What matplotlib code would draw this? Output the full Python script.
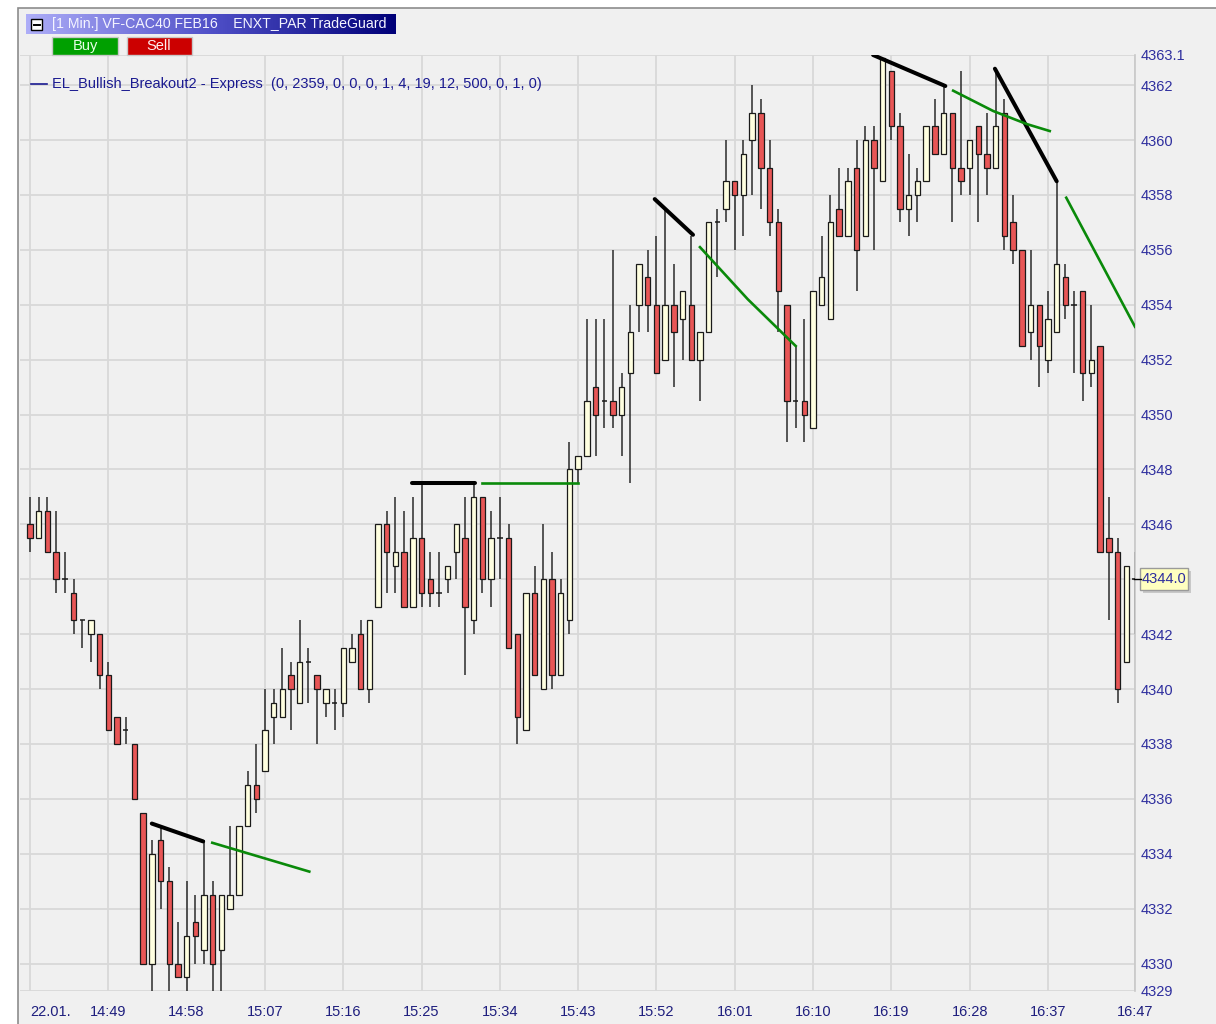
import matplotlib.pyplot as plt
import numpy as np
from matplotlib.patches import Rectangle
from matplotlib.lines import Line2D
from matplotlib.colors import LinearSegmentedColormap

plt.rcParams['font.family'] = ['Liberation Sans', 'DejaVu Sans']

# --- data: 1-minute OHLC, VF-CAC40 FEB16, 22.01. 14:40 - 16:47 ---
opens = [4346.0, 4345.5, 4346.5, 4345.0, 4344.0, 4343.5, 4342.5, 4342.0, 4342.0, 4340.5,
         4339.0, 4338.5, 4338.0, 4335.5, 4330.0, 4334.5, 4333.0, 4330.0, 4329.5, 4331.5,
         4330.5, 4332.5, 4330.5, 4332.0, 4332.5, 4335.0, 4336.5, 4337.0, 4339.0, 4339.0,
         4340.5, 4339.5, 4341.0, 4340.5, 4339.5, 4339.5, 4339.5, 4341.0, 4342.0, 4340.0,
         4343.0, 4346.0, 4344.5, 4345.0, 4343.0, 4345.5, 4344.0, 4343.5, 4344.0, 4345.0,
         4345.5, 4342.5, 4347.0, 4344.0, 4345.5, 4345.5, 4342.0, 4338.5, 4343.5, 4340.0,
         4344.0, 4340.5, 4342.5, 4348.0, 4348.5, 4351.0, 4350.5, 4350.5, 4350.0, 4351.5,
         4354.0, 4355.0, 4354.0, 4352.0, 4354.0, 4353.5, 4354.0, 4352.0, 4353.0, 4357.0,
         4357.5, 4358.5, 4358.0, 4360.0, 4361.0, 4359.0, 4357.0, 4354.0, 4350.5, 4350.5,
         4349.5, 4354.0, 4353.5, 4357.5, 4356.5, 4359.0, 4356.5, 4360.0, 4358.5, 4362.5,
         4360.5, 4357.5, 4358.0, 4358.5, 4360.5, 4359.5, 4361.0, 4359.0, 4359.0, 4360.5,
         4359.5, 4359.0, 4361.0, 4357.0, 4356.0, 4353.0, 4354.0, 4352.0, 4353.0, 4355.0,
         4354.0, 4354.5, 4351.5, 4352.5, 4345.5, 4345.0, 4341.0, 4344.0]
highs = [4347.0, 4347.0, 4347.0, 4346.5, 4345.0, 4344.0, 4342.5, 4342.5, 4342.0, 4341.0,
         4339.0, 4339.0, 4338.0, 4335.5, 4334.5, 4335.0, 4333.5, 4331.5, 4333.0, 4332.5,
         4334.5, 4333.0, 4332.5, 4335.0, 4335.0, 4337.0, 4338.0, 4340.0, 4340.0, 4341.5,
         4341.0, 4342.5, 4341.5, 4340.5, 4340.0, 4340.0, 4341.5, 4342.0, 4342.5, 4342.5,
         4346.0, 4346.5, 4347.0, 4346.5, 4347.0, 4347.5, 4345.0, 4345.0, 4344.5, 4346.0,
         4347.0, 4347.5, 4347.0, 4346.5, 4347.0, 4346.0, 4342.0, 4343.5, 4344.5, 4346.0,
         4345.0, 4344.0, 4349.0, 4348.5, 4353.5, 4353.5, 4353.5, 4356.0, 4351.5, 4354.0,
         4355.5, 4356.0, 4356.5, 4357.5, 4355.5, 4354.5, 4356.5, 4353.0, 4357.0, 4357.5,
         4360.0, 4358.5, 4360.0, 4362.0, 4361.5, 4360.0, 4357.5, 4354.0, 4352.5, 4353.5,
         4354.5, 4356.5, 4358.0, 4359.0, 4359.0, 4360.0, 4360.5, 4360.5, 4363.0, 4362.5,
         4361.0, 4359.5, 4359.0, 4360.5, 4361.5, 4362.0, 4361.0, 4362.5, 4360.0, 4360.5,
         4361.0, 4362.5, 4361.5, 4358.0, 4356.0, 4356.0, 4354.0, 4354.5, 4358.5, 4355.5,
         4354.5, 4354.5, 4354.0, 4352.5, 4347.0, 4345.5, 4344.5, 4345.0]
lows = [4345.0, 4345.5, 4345.0, 4343.5, 4343.5, 4342.0, 4341.5, 4341.0, 4340.0, 4338.5,
        4338.0, 4338.0, 4336.0, 4330.0, 4329.0, 4332.0, 4329.0, 4329.5, 4329.0, 4330.0,
        4330.0, 4329.0, 4329.0, 4332.0, 4332.5, 4335.0, 4335.5, 4337.0, 4338.0, 4339.0,
        4338.5, 4339.5, 4339.5, 4338.0, 4339.0, 4338.5, 4339.0, 4341.0, 4340.0, 4339.5,
        4343.0, 4343.5, 4343.5, 4343.0, 4343.0, 4343.0, 4343.0, 4343.0, 4343.5, 4344.0,
        4340.5, 4342.0, 4343.5, 4343.0, 4344.0, 4341.5, 4338.0, 4338.5, 4340.5, 4340.0,
        4340.0, 4340.5, 4342.0, 4347.5, 4348.5, 4348.5, 4349.5, 4349.5, 4348.5, 4347.5,
        4353.0, 4353.0, 4351.5, 4352.0, 4351.0, 4352.0, 4352.0, 4350.5, 4353.0, 4355.0,
        4357.0, 4356.0, 4356.5, 4358.0, 4357.5, 4356.5, 4353.0, 4349.0, 4349.5, 4349.0,
        4349.5, 4354.0, 4353.5, 4356.5, 4356.5, 4354.5, 4356.5, 4356.0, 4358.5, 4360.0,
        4357.0, 4356.5, 4357.0, 4358.5, 4359.5, 4359.5, 4357.0, 4358.0, 4358.0, 4357.0,
        4358.0, 4359.0, 4356.0, 4355.5, 4352.5, 4352.0, 4351.0, 4351.5, 4353.0, 4353.5,
        4351.5, 4350.5, 4351.0, 4345.0, 4342.5, 4339.5, 4341.0, 4342.0]
closes = [4345.5, 4346.5, 4345.0, 4344.0, 4344.0, 4342.5, 4342.5, 4342.5, 4340.5, 4338.5,
          4338.0, 4338.5, 4336.0, 4330.0, 4334.0, 4333.0, 4330.0, 4329.5, 4331.0, 4331.0,
          4332.5, 4330.0, 4332.5, 4332.5, 4335.0, 4336.5, 4336.0, 4338.5, 4339.5, 4340.0,
          4340.0, 4341.0, 4341.0, 4340.0, 4340.0, 4339.5, 4341.5, 4341.5, 4340.0, 4342.5,
          4346.0, 4345.0, 4345.0, 4343.0, 4345.5, 4343.5, 4343.5, 4343.5, 4344.5, 4346.0,
          4343.0, 4347.0, 4344.0, 4345.5, 4345.5, 4341.5, 4339.0, 4343.5, 4340.5, 4344.0,
          4340.5, 4343.5, 4348.0, 4348.5, 4350.5, 4350.0, 4350.5, 4350.0, 4351.0, 4353.0,
          4355.5, 4354.0, 4351.5, 4354.0, 4353.0, 4354.5, 4352.0, 4353.0, 4357.0, 4357.0,
          4358.5, 4358.0, 4359.5, 4361.0, 4359.0, 4357.0, 4354.5, 4350.5, 4350.5, 4350.0,
          4354.5, 4355.0, 4357.0, 4356.5, 4358.5, 4356.0, 4360.0, 4359.0, 4363.0, 4360.5,
          4357.5, 4358.0, 4358.5, 4360.5, 4359.5, 4361.0, 4359.0, 4358.5, 4360.0, 4359.5,
          4359.0, 4360.5, 4356.5, 4356.0, 4352.5, 4354.0, 4352.5, 4353.5, 4355.5, 4354.0,
          4354.0, 4351.5, 4352.0, 4345.0, 4345.0, 4340.0, 4344.5, 4344.0]

tick_pos = [0, 9, 18, 27, 36, 45, 54, 63, 72, 81, 90, 99, 108, 117, 127]
tick_labels = ['22.01.', '14:49', '14:58', '15:07', '15:16', '15:25', '15:34', '15:43',
               '15:52', '16:01', '16:10', '16:19', '16:28', '16:37', '16:47']
price_ticks = [4329, 4330, 4332, 4334, 4336, 4338, 4340, 4342, 4344, 4346, 4348, 4350,
               4352, 4354, 4356, 4358, 4360, 4362, 4363.1]
# the 4344 label sits under the last-price marker
price_labels = ['4329', '4330', '4332', '4334', '4336', '4338', '4340', '4342', '',
                '4346', '4348', '4350', '4352', '4354', '4356', '4358', '4360', '4362',
                '4363.1']

# breakout indicator lines (bar index, price)
black_lines = [([14.0, 19.9], [4335.1, 4334.45]),
               ([43.9, 51.1], [4347.5, 4347.5]),
               ([71.8, 76.2], [4357.85, 4356.55]),
               ([96.9, 105.2], [4363.1, 4361.97]),
               ([110.9, 118.0], [4362.6, 4358.5])]
green_lines = [([20.95, 32.1], [4334.4, 4333.35]),
               ([51.9, 63.0], [4347.5, 4347.5]),
               ([77.0, 82.5, 88.0], [4356.1, 4354.2, 4352.5]),
               ([106.1, 110.7, 114.6, 117.2], [4361.8, 4361.06, 4360.58, 4360.33]),
               ([119.1, 127.0], [4357.9, 4353.2])]
last_price = 4344.0

W, H = 1216, 1024


def fx(x):
    return x / W


def fy(y):
    return 1 - y / H


fig = plt.figure(figsize=(W / 100, H / 100), dpi=100, facecolor='white')

# window frame
fig.add_artist(Rectangle((fx(18), fy(1030)), fx(1230) - fx(18), fy(8) - fy(1030),
                         facecolor='#f0f0f0', edgecolor='#8c8c8c', lw=1.2,
                         transform=fig.transFigure, zorder=0))

ax = fig.add_axes([fx(20), fy(991), fx(1135) - fx(20), fy(55) - fy(991)])
ax.set_facecolor('#f0f0f0')
x0 = (20 - 30) / 8.7
ax.set_xlim(x0, 127.0)
ax.set_ylim(4329, 4363.1)

for sp in ['top', 'left', 'bottom']:
    ax.spines[sp].set_visible(False)
ax.spines['right'].set_color('#c8c8c8')
ax.spines['right'].set_linewidth(1.2)

ax.set_xticks(tick_pos)
ax.set_xticklabels(tick_labels)
ax.set_yticks(price_ticks)
ax.set_yticklabels(price_labels)
ax.yaxis.tick_right()
ax.tick_params(axis='y', length=0, pad=4, labelsize=10.5, labelcolor='#2e2e9e')
ax.tick_params(axis='x', length=0, pad=10, labelsize=10.5, labelcolor='#1e1e7e')
ax.get_xticklabels()[0].set_ha('left')
ax.grid(True, color='#d8d8d8', lw=1.3, zorder=0)
ax.set_axisbelow(True)

o = np.array(opens)
h = np.array(highs)
l = np.array(lows)
c = np.array(closes)
idx = np.arange(len(o))
bw = 0.62

ax.vlines(idx, l, h, color='#2a2a2a', lw=1.1, zorder=2)
up = c > o
dn = c < o
flat = c == o
ax.bar(idx[up], (c - o)[up], bottom=o[up], width=bw, color='#ffffe0',
       edgecolor='#1a1a1a', lw=0.9, zorder=3)
ax.bar(idx[dn], (o - c)[dn], bottom=c[dn], width=bw, color='#e85656',
       edgecolor='#1a1a1a', lw=0.9, zorder=3)
ax.hlines(c[flat], idx[flat] - bw / 2, idx[flat] + bw / 2, color='#1a1a1a', lw=1.1, zorder=3)

for xs, ys in black_lines:
    ax.plot(xs, ys, color='black', lw=2.9, solid_capstyle='round', zorder=4)
for xs, ys in green_lines:
    ax.plot(xs, ys, color='#0a8a0a', lw=1.9, zorder=4)

# last price marker
fig.add_artist(Line2D([fx(1134), fx(1141)], [fy(579), fy(579)], color='black', lw=1))
fig.add_artist(Rectangle((fx(1143), fy(593)), fx(1191) - fx(1143), fy(571) - fy(593),
                         facecolor='#c8c8c8', edgecolor='none', transform=fig.transFigure))
fig.add_artist(Rectangle((fx(1140), fy(590)), fx(1188) - fx(1140), fy(568) - fy(590),
                         facecolor='#ffffc0', edgecolor='#9a9a9a', lw=1,
                         transform=fig.transFigure))
fig.text(fx(1164), fy(579), f'{last_price:.1f}', ha='center', va='center',
         fontsize=10.5, color='#2e2e9e')

# title bar
ax_t = fig.add_axes([fx(26), fy(34), fx(396) - fx(26), fy(14) - fy(34)])
cmap = LinearSegmentedColormap.from_list('bar', ['#aeaef8', '#5050c8', '#000078'])
ax_t.imshow(np.linspace(0, 1, 256)[None, :], aspect='auto', cmap=cmap, extent=[0, 1, 0, 1])
ax_t.axis('off')
fig.add_artist(Rectangle((fx(31), fy(30)), fx(42) - fx(31), fy(19) - fy(30),
                         facecolor='white', edgecolor='black', lw=1,
                         transform=fig.transFigure))
fig.add_artist(Line2D([fx(33.5), fx(39.5)], [fy(24.5), fy(24.5)], color='black', lw=1.4))
fig.text(fx(52), fy(24), '[1 Min.] VF-CAC40 FEB16    ENXT_PAR TradeGuard',
         ha='left', va='center', fontsize=10.2, color='#f4f4ff')

# buy / sell buttons
fig.add_artist(Rectangle((fx(52), fy(55)), fx(118) - fx(52), fy(37) - fy(55),
                         facecolor='#00a000', edgecolor='#c8c8c8', lw=1,
                         transform=fig.transFigure))
fig.text(fx(85), fy(46), 'Buy', ha='center', va='center', fontsize=10.5, color='#e8ffe8')
fig.add_artist(Rectangle((fx(127), fy(55)), fx(192) - fx(127), fy(37) - fy(55),
                         facecolor='#cc0000', edgecolor='#c8c8c8', lw=1,
                         transform=fig.transFigure))
fig.text(fx(159), fy(46), 'Sell', ha='center', va='center', fontsize=10.5, color='#fff0f0')

# indicator legend
fig.add_artist(Line2D([fx(31), fx(47)], [fy(84), fy(84)], color='#1a1a90', lw=1.2))
fig.text(fx(52), fy(84),
         'EL_Bullish_Breakout2 - Express  (0, 2359, 0, 0, 0, 1, 4, 19, 12, 500, 0, 1, 0)',
         ha='left', va='center', fontsize=10.5, color='#1a1a90')

fig.savefig('out.png', dpi=100, facecolor='white')
